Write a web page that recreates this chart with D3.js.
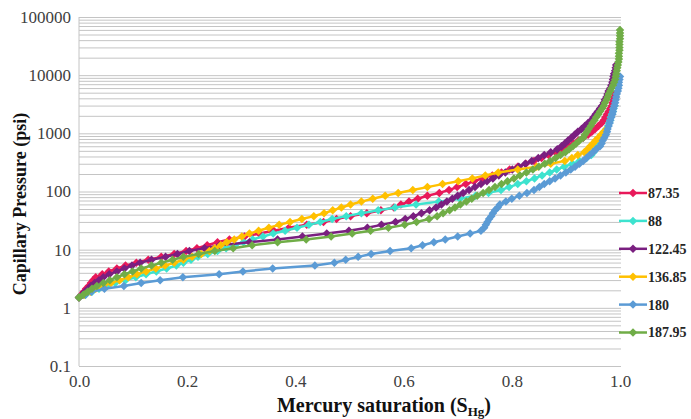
<!DOCTYPE html>
<html><head><meta charset="utf-8">
<script src="https://cdn.jsdelivr.net/npm/d3@7"></script>
<style>
body{margin:0;background:#fff}svg{display:block}
</style>
</head><body>
<svg id="c" width="691" height="419"></svg>
<script>
// Shared intrusion pressure steps (psi)
const pressures = [1.5,1.68,1.89,2.12,2.38,2.67,2.99,3.36,3.77,4.23,4.74,5.32,5.97,6.70,7.52,8.43,9.46,10.6,11.9,13.4,15.0,16.8,18.9,21.2,23.8,26.7,29.9,33.6,37.7,42.3,47.4,53.2,59.7,67.0,75.2,84.3,94.6,106,119,134,150,168,189,212,238,267,299,336,377,423,474,532,597,670,752,843,946,1060,1190,1340,1500,1680,1890,2120,2380,2670,2990,3360,3770,4230,4740,5320,5970,6700,7520,8430,9460,10600,11900,13400,15000,16800,18900,21200,23800,26700,29900,33600,37700,42300,47400,53200,59700];

// Mercury saturation at each pressure step, per sample
const sat_87_35 = [0,0.004,0.009,0.013,0.018,0.022,0.026,0.031,0.043,0.055,0.07,0.086,0.106,0.128,0.152,0.176,0.198,0.218,0.237,0.256,0.278,0.306,0.333,0.36,0.388,0.421,0.452,0.476,0.502,0.532,0.558,0.582,0.595,0.61,0.626,0.644,0.666,0.684,0.699,0.715,0.73,0.746,0.764,0.781,0.796,0.811,0.826,0.841,0.855,0.868,0.881,0.894,0.905,0.914,0.923,0.932,0.941,0.948,0.954,0.96,0.966,0.97,0.973,0.976,0.979,0.982,0.985,0.986,0.988,0.989,0.991];
const sat_88 = [0,0.012,0.024,0.037,0.052,0.067,0.086,0.105,0.124,0.143,0.162,0.18,0.193,0.207,0.22,0.238,0.256,0.272,0.288,0.304,0.321,0.34,0.359,0.381,0.403,0.425,0.446,0.468,0.494,0.522,0.553,0.584,0.623,0.665,0.704,0.733,0.757,0.78,0.795,0.811,0.827,0.842,0.856,0.87,0.883,0.897,0.912,0.925,0.938,0.947,0.951,0.955,0.959,0.963,0.966,0.969,0.971,0.973,0.975,0.978,0.98,0.982,0.983,0.985,0.987,0.988,0.99];
const sat_122_45 = [0,0.006,0.011,0.017,0.022,0.029,0.037,0.045,0.056,0.07,0.084,0.098,0.113,0.134,0.16,0.182,0.204,0.232,0.26,0.315,0.367,0.413,0.458,0.499,0.533,0.559,0.585,0.603,0.618,0.633,0.648,0.66,0.67,0.68,0.69,0.70,0.71,0.721,0.732,0.743,0.754,0.765,0.776,0.788,0.801,0.813,0.825,0.837,0.849,0.86,0.872,0.884,0.892,0.898,0.904,0.91,0.916,0.922,0.929,0.935,0.941,0.947,0.951,0.955,0.959,0.963,0.967,0.97,0.972,0.975,0.977,0.979,0.982,0.984,0.986,0.987,0.988,0.989,0.991,0.992,0.993];
const sat_136_85 = [0,0.01,0.021,0.031,0.045,0.059,0.075,0.091,0.107,0.124,0.142,0.159,0.176,0.193,0.209,0.226,0.241,0.251,0.262,0.273,0.287,0.301,0.315,0.332,0.351,0.37,0.39,0.412,0.434,0.453,0.469,0.485,0.502,0.522,0.543,0.566,0.59,0.617,0.644,0.672,0.701,0.727,0.751,0.775,0.811,0.846,0.872,0.898,0.911,0.922,0.934,0.94,0.945,0.95,0.955,0.96,0.965,0.97,0.975];
const sat_180 = [0,0.012,0.023,0.047,0.083,0.115,0.15,0.192,0.259,0.303,0.358,0.436,0.472,0.493,0.516,0.54,0.575,0.614,0.635,0.656,0.677,0.70,0.723,0.743,0.749,0.752,0.755,0.758,0.762,0.765,0.769,0.774,0.778,0.789,0.80,0.814,0.828,0.841,0.851,0.86,0.87,0.88,0.89,0.90,0.909,0.917,0.925,0.932,0.938,0.944,0.95,0.956,0.963,0.966,0.968,0.971,0.974,0.976,0.977,0.979,0.981,0.982,0.984,0.986,0.987,0.988,0.99,0.991,0.992,0.993,0.994,0.996,0.997,0.998,0.998,0.999,1.0];
const sat_187_95 = [0,0.008,0.016,0.024,0.033,0.045,0.057,0.07,0.084,0.099,0.115,0.134,0.152,0.173,0.193,0.221,0.251,0.285,0.32,0.367,0.42,0.466,0.505,0.539,0.572,0.602,0.624,0.647,0.662,0.673,0.685,0.695,0.705,0.716,0.726,0.736,0.747,0.758,0.769,0.781,0.792,0.804,0.815,0.827,0.839,0.85,0.861,0.871,0.881,0.89,0.899,0.906,0.913,0.919,0.925,0.932,0.935,0.939,0.942,0.946,0.949,0.953,0.956,0.96,0.963,0.967,0.97,0.972,0.975,0.977,0.979,0.982,0.984,0.987,0.989,0.991,0.992,0.993,0.994,0.995,0.996,0.997,0.998,0.998,0.998,0.999,0.999,0.999,0.999,1.0,1.0,1.0,1.0];

const seriesNames = ["87.35","88","122.45","136.85","180","187.95"];
const seriesSat = [sat_87_35, sat_88, sat_122_45, sat_136_85, sat_180, sat_187_95];
const seriesColors = ["#e8195a","#3de3cf","#7a1f80","#ffc000","#5b9bd5","#70ad47"];

const xTicks = [0,0.2,0.4,0.6,0.8,1.0];
const yTicks = [0.1,1,10,100,1000,10000,100000];
const yTickLabels = ["0.1","1","10","100","1000","10000","100000"];

const svg = d3.select("#c");
const X0 = 79, X1 = 620, Ytop = 17, Ybot = 366;
const x = d3.scaleLinear().domain([0,1]).range([X0,X1]);
const y = d3.scaleLog().domain([0.1,100000]).range([Ybot,Ytop]);
const serif = 'Liberation Serif, Tinos, Times New Roman, Times, Nimbus Roman, DejaVu Serif, serif';

// minor + major horizontal gridlines
const gridVals = [];
yTicks.slice(0,-1).forEach(d => { for (let k=1;k<=9;k++) gridVals.push(d*k); });
gridVals.push(100000);
const grid = svg.append("g").attr("transform",`translate(${X0},0)`)
  .call(d3.axisLeft(y).tickValues(gridVals).tickSize(-(X1-X0+1)).tickFormat(""));
grid.select(".domain").remove();
grid.selectAll("line").attr("stroke","#c4c4c4").attr("stroke-width",1);

// left axis line
svg.append("line").attr("x1",X0).attr("x2",X0).attr("y1",Ytop).attr("y2",Ybot)
  .attr("stroke","#c4c4c4").attr("stroke-width",1);

// y tick labels
const ya = svg.append("g").attr("transform",`translate(${X0},0)`)
  .call(d3.axisLeft(y).tickValues(yTicks).tickSize(0).tickPadding(8)
    .tickFormat((d,i)=>yTickLabels[i]));
ya.select(".domain").remove();
ya.attr("font-family",serif).attr("font-size",17);
ya.selectAll("text").attr("fill","#404040");

// x tick labels
const xa = svg.append("g").attr("transform",`translate(0,${Ybot})`)
  .call(d3.axisBottom(x).tickValues(xTicks).tickSize(0).tickPadding(9).tickFormat(d3.format(".1f")));
xa.select(".domain").remove();
xa.attr("font-family",serif).attr("font-size",17);
xa.selectAll("text").attr("fill","#404040");

// diamond symbol
const diamond = { draw(ctx, size){ const r=Math.sqrt(size/2); ctx.moveTo(0,-r); ctx.lineTo(r,0); ctx.lineTo(0,r); ctx.lineTo(-r,0); ctx.closePath(); } };
const sym = d3.symbol().type(diamond).size(36);

const line = d3.line().x(d=>x(d.s)).y(d=>y(d.p));

seriesSat.forEach((sat,i) => {
  const data = sat.map((s,j)=>({s:s, p:pressures[j]}));
  const g = svg.append("g");
  g.append("path").datum(data).attr("d",line).attr("fill","none")
    .attr("stroke",seriesColors[i]).attr("stroke-width",2.5).attr("stroke-linejoin","round");
  g.selectAll("path.m").data(data).join("path").attr("class","m")
    .attr("d",sym).attr("transform",d=>`translate(${x(d.s)},${y(d.p)})`)
    .attr("fill",seriesColors[i]);
});

// legend
const lg = svg.append("g").attr("font-family",serif);
seriesNames.forEach((n,i) => {
  const cy = 193 + i*27.9;
  lg.append("line").attr("x1",619).attr("x2",647).attr("y1",cy).attr("y2",cy)
    .attr("stroke",seriesColors[i]).attr("stroke-width",2.5);
  lg.append("path").attr("d",sym).attr("transform",`translate(633,${cy})`).attr("fill",seriesColors[i]);
  lg.append("text").attr("x",648).attr("y",cy).attr("dy","0.35em")
    .attr("font-weight","bold").attr("font-size",14)
    .attr("fill","#262626").text(n);
});

// axis titles
const xt = svg.append("text").attr("x",384).attr("y",412).attr("text-anchor","middle")
  .attr("font-family",serif).attr("font-weight","bold").attr("font-size",20).attr("fill","#111");
xt.append("tspan").text("Mercury saturation (S");
xt.append("tspan").attr("font-size",13).attr("dy",4).text("Hg");
xt.append("tspan").attr("dy",-4).text(")");

svg.append("text").attr("transform","translate(26,204) rotate(-90)").attr("text-anchor","middle")
  .attr("font-family",serif).attr("font-weight","bold").attr("font-size",18).attr("fill","#111")
  .text("Capillary Pressure (psi)");
</script>
</body></html>
